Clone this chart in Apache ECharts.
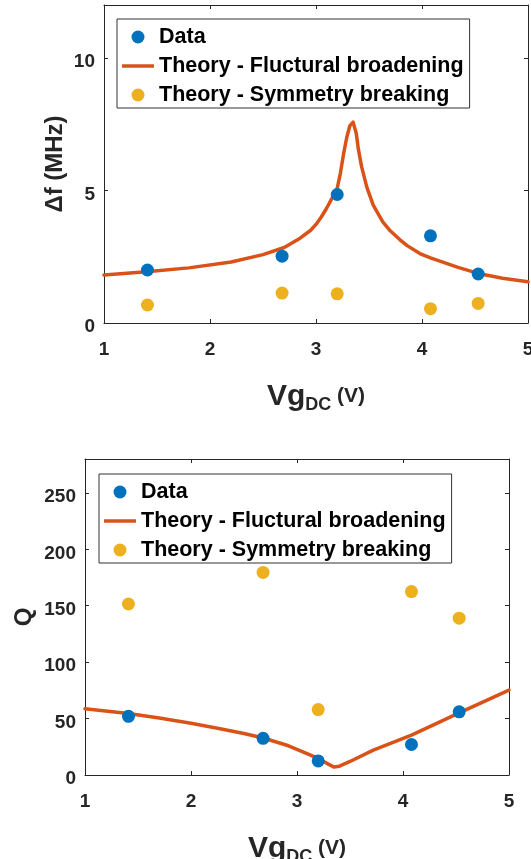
<!DOCTYPE html>
<html>
<head>
<meta charset="utf-8">
<script src="https://cdn.jsdelivr.net/npm/echarts@6/dist/echarts.min.js"></script>
<style>
  html, body { margin: 0; padding: 0; background: #ffffff; }
  #chart { width: 531px; height: 859px; }
</style>
</head>
<body>
<div id="chart"></div>
<script>
// Gate voltage of the five measured devices (V)
const vgData = [1.41, 2.68, 3.20, 4.08, 4.53];

// Linewidth panel (MHz)
const dfMeasured = [2.00, 2.52, 4.85, 3.29, 1.85];
const dfSymmetry = [0.68, 1.13, 1.10, 0.54, 0.74];
const dfTheoryVg = [1.00, 1.40, 1.80, 2.20, 2.50, 2.70, 2.85, 2.95, 3.00, 3.05, 3.10, 3.13, 3.16, 3.20, 3.23, 3.26,
                    3.29, 3.32, 3.35, 3.38, 3.40, 3.43, 3.48, 3.54, 3.63, 3.70, 3.79, 3.86, 3.98, 4.08, 4.34,
                    4.53, 4.76, 5.00];
const dfTheory   = [1.81, 1.93, 2.08, 2.30, 2.58, 2.85, 3.20, 3.50, 3.72, 4.00, 4.33, 4.55, 4.78, 5.08, 5.65, 6.38,
                    7.00, 7.45, 7.58, 7.15, 6.55, 5.90, 5.12, 4.45, 3.82, 3.48, 3.15, 2.92, 2.62, 2.46, 2.10,
                    1.87, 1.69, 1.56];

// Quality factor panel
const qMeasured = [52, 32.5, 12.5, 27, 56];
const qSymmetry = [151.5, 179.5, 58, 162.5, 139];
const qTheoryVg = [1.00, 1.41, 1.70, 2.00, 2.25, 2.50, 2.69, 2.92, 3.10, 3.20, 3.30, 3.35, 3.40, 3.50, 3.72, 4.08,
                   4.53, 5.00];
const qTheory   = [58.7, 54.5, 50.5, 45.8, 41.5, 36.8, 32.6, 25.9, 18.8, 14.7, 9.4, 7.0, 7.8, 12.0, 22.1, 35.4,
                   55.1, 75.2];

// Axis ticks
const xTicks = { min: 1, max: 5, interval: 1 };
const dfTicks = { min: 0, max: 12, interval: 5 };
const qTicks = { min: 0, max: 280, interval: 50 };

const legendNames = ['Data', 'Theory - Fluctural broadening', 'Theory - Symmetry breaking'];

const BLUE = '#0072BD', ORANGE = '#D95319', YELLOW = '#EDB120', AXIS = '#262626';
const FONT = '"Liberation Sans", Arial, sans-serif';

const pairs = (xs, ys) => xs.map((x, i) => [x, ys[i]]);

function xAxisPair(gridIndex) {
  const base = {
    type: 'value', gridIndex: gridIndex,
    min: xTicks.min, max: xTicks.max, interval: xTicks.interval,
    splitLine: { show: false },
    axisLine: { show: true, onZero: false, lineStyle: { color: AXIS, width: 1 } },
    axisTick: { show: true, inside: true, length: 4, lineStyle: { color: AXIS } }
  };
  return [
    Object.assign({}, base, {
      position: 'bottom',
      axisLabel: { show: true, margin: 17, color: AXIS, fontFamily: FONT, fontWeight: 'bold', fontSize: 19 },
      name: '{v|Vg}{s|DC}{p| (V)}',
      nameLocation: 'middle', nameGap: 59, nameMoveOverlap: false,
      nameTextStyle: {
        color: AXIS, fontFamily: FONT,
        rich: {
          v: { fontSize: 30, fontWeight: 'bold', fontFamily: FONT, color: AXIS, lineHeight: 32, verticalAlign: 'top' },
          s: { fontSize: 18, fontWeight: 'bold', fontFamily: FONT, color: AXIS, lineHeight: 32, verticalAlign: 'bottom' },
          p: { fontSize: 21, fontWeight: 'bold', fontFamily: FONT, color: AXIS, lineHeight: 32, verticalAlign: 'top',
               padding: [4, 0, 0, 0] }
        }
      }
    }),
    Object.assign({}, base, { position: 'top', axisLabel: { show: false } })
  ];
}

function yAxisPair(gridIndex, ticks, name, gap) {
  const base = {
    type: 'value', gridIndex: gridIndex,
    min: ticks.min, max: ticks.max, interval: ticks.interval,
    splitLine: { show: false },
    axisLine: { show: true, onZero: false, lineStyle: { color: AXIS, width: 1 } },
    axisTick: { show: true, inside: true, length: 4, lineStyle: { color: AXIS } }
  };
  return [
    Object.assign({}, base, {
      position: 'left',
      axisLabel: { show: true, showMaxLabel: false, margin: 9, color: AXIS, fontFamily: FONT,
                   fontWeight: 'bold', fontSize: 19, verticalAlign: 'top', lineHeight: 8 },
      name: name, nameLocation: 'middle', nameGap: gap, nameRotate: 90, nameMoveOverlap: false,
      nameTextStyle: { color: AXIS, fontFamily: FONT, fontWeight: 'bold', fontSize: 24 }
    }),
    Object.assign({}, base, { position: 'right', axisLabel: { show: false } })
  ];
}

function legendAt(left, top) {
  return {
    orient: 'vertical', left: left, top: top,
    data: [
      { name: legendNames[0], icon: 'circle' },
      { name: legendNames[1], icon: 'path://M0 0H32V3.5H0Z' },
      { name: legendNames[2], icon: 'circle' }
    ],
    itemWidth: 32, itemHeight: 13, itemGap: 7,
    padding: [7, 6, 2, 5],
    borderColor: '#333', borderWidth: 1, backgroundColor: '#ffffff',
    selectedMode: false,
    textStyle: { color: '#000', fontFamily: FONT, fontWeight: 'bold', fontSize: 21.5, lineHeight: 21 }
  };
}

function seriesFor(idx, measured, symmetry, theoryX, theoryY) {
  return [
    {
      name: legendNames[1], type: 'line', xAxisIndex: idx * 2, yAxisIndex: idx * 2,
      data: pairs(theoryX, theoryY), symbol: 'none', smooth: false,
      lineStyle: { color: ORANGE, width: 3.5, join: 'round', cap: 'round' }, itemStyle: { color: ORANGE }, z: 2
    },
    {
      name: legendNames[0], type: 'scatter', xAxisIndex: idx * 2, yAxisIndex: idx * 2,
      data: pairs(vgData, measured), symbol: 'circle', symbolSize: 13,
      itemStyle: { color: BLUE, opacity: 1 }, z: 3
    },
    {
      name: legendNames[2], type: 'scatter', xAxisIndex: idx * 2, yAxisIndex: idx * 2,
      data: pairs(vgData, symmetry), symbol: 'circle', symbolSize: 13,
      itemStyle: { color: YELLOW, opacity: 1 }, z: 3
    }
  ];
}

const chart = echarts.init(document.getElementById('chart'), null, { renderer: 'canvas' });
chart.setOption({
  animation: false,
  backgroundColor: '#ffffff',
  grid: [
    { left: 104, top: 5, width: 424, height: 318, containLabel: false, outerBoundsMode: 'none' },
    { left: 85, top: 459, width: 424, height: 316, containLabel: false, outerBoundsMode: 'none' }
  ],
  xAxis: [...xAxisPair(0), ...xAxisPair(1)],
  yAxis: [...yAxisPair(0, dfTicks, 'Δf (MHz)', 37), ...yAxisPair(1, qTicks, 'Q', 49)],
  legend: [legendAt(117, 19), legendAt(99, 474)],
  series: [
    ...seriesFor(0, dfMeasured, dfSymmetry, dfTheoryVg, dfTheory),
    ...seriesFor(1, qMeasured, qSymmetry, qTheoryVg, qTheory)
  ]
});
</script>
</body>
</html>
